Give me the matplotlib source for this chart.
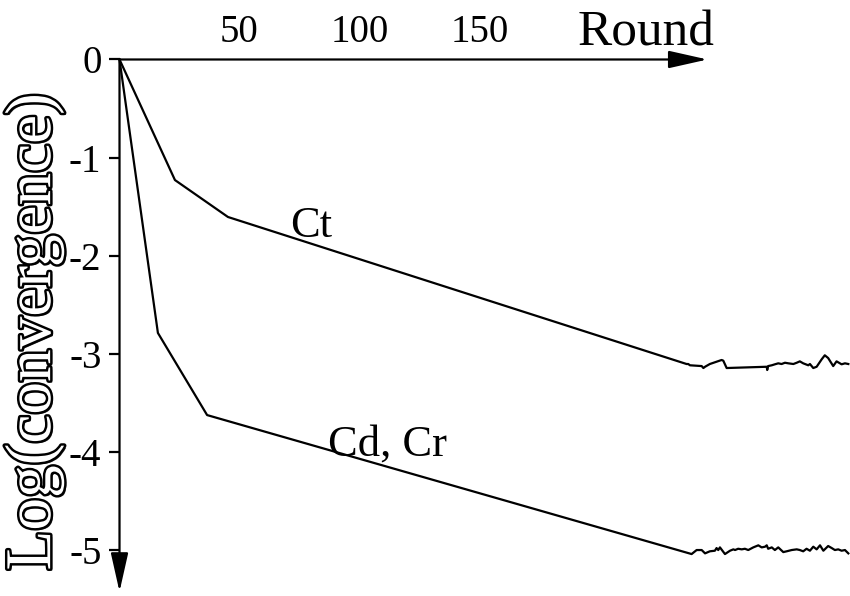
import matplotlib.pyplot as plt
import matplotlib.patheffects as pe

plt.rcParams['font.family'] = ['Liberation Serif', 'DejaVu Serif']

# convergence of Ct
ct_x = [0, 23.1, 45.2, 236.3, 237.0, 237.7, 242.6, 243.3, 244.0, 246.0, 250.9, 251.6,
        253.0, 269.7, 269.9, 270.3, 271.8, 273.1, 274.5, 275.9, 277.3, 278.7, 280.8,
        282.2, 283.5, 284.9, 287.0, 287.7, 289.1, 290.5, 292.6, 293.9, 295.3, 297.4,
        298.8, 300.9, 302.3, 303.7]
ct_y = [0, -1.23, -1.607, -3.107, -3.107, -3.120, -3.128, -3.148, -3.135, -3.107, -3.066,
        -3.073, -3.148, -3.135, -3.168, -3.128, -3.120, -3.110, -3.100, -3.107, -3.094,
        -3.100, -3.107, -3.094, -3.080, -3.100, -3.120, -3.107, -3.148, -3.135, -3.059,
        -3.018, -3.046, -3.128, -3.080, -3.110, -3.100, -3.107]

# convergence of Cd and Cr
cd_x = [0, 16.0, 36.5, 238.4, 240.5, 242.6, 244.0, 246.0, 248.1, 248.8, 249.5, 250.2,
        252.3, 254.4, 255.8, 256.5, 257.8, 259.3, 260.6, 262.0, 264.1, 266.2, 267.6,
        269.0, 269.7, 270.3, 271.8, 273.1, 274.5, 276.6, 278.0, 280.1, 282.2, 283.5,
        284.9, 286.3, 287.7, 289.1, 290.5, 291.9, 293.3, 295.3, 296.8, 298.1, 299.5,
        300.9, 302.3, 303.7]
cd_y = [0, -2.79, -3.628, -5.046, -5.005, -5.005, -5.039, -5.018, -5.012, -4.985, -5.005,
        -4.978, -5.046, -5.012, -4.998, -5.005, -4.992, -4.998, -4.992, -5.005, -4.978,
        -4.957, -4.978, -4.971, -4.957, -4.992, -4.978, -5.005, -4.978, -5.026, -5.018,
        -5.005, -4.998, -5.005, -5.018, -4.992, -5.012, -4.971, -4.998, -4.957, -5.012,
        -4.964, -4.985, -5.005, -4.998, -5.012, -5.005, -5.039]

x_ticks = [50, 100, 150]
y_ticks = [0, -1, -2, -3, -4, -5]

fig = plt.figure(figsize=(8.5, 5.96), dpi=100)
ax = fig.add_axes([0, 0, 1, 1])
ax.set_xlim(-49.8, 304.4)
ax.set_ylim(-5.474, 0.607)

ax.plot(ct_x, ct_y, color='black', lw=1.6)
ax.plot(cd_x, cd_y, color='black', lw=1.6)

# axes through the origin, drawn as arrows
arrow = dict(arrowstyle='-|>,head_length=0.8,head_width=0.18', lw=1.6, color='black',
             mutation_scale=30, shrinkA=0, shrinkB=0)
ax.annotate('', xy=(245, 0), xytext=(0, 0), arrowprops=arrow)
ax.annotate('', xy=(0, -5.43), xytext=(0, 0), arrowprops=arrow)

for side in ['right', 'bottom']:
    ax.spines[side].set_visible(False)
ax.spines['left'].set_position(('data', 0))
ax.spines['top'].set_position(('data', 0))
ax.spines['left'].set_color('none')
ax.spines['top'].set_color('none')

ax.xaxis.set_ticks_position('top')
ax.set_xticks(x_ticks)
ax.set_xticklabels([str(v) for v in x_ticks])
ax.tick_params(axis='x', length=0, pad=6, labelsize=28)

ax.set_yticks(y_ticks)
ax.set_yticklabels([str(v) for v in y_ticks])
ax.tick_params(axis='y', direction='out', length=8, width=1.6, pad=5, labelsize=28)

ax.text(219.5, 0.27, 'Round', fontsize=37, ha='center', va='center')

ax.text(71.0, -1.811, 'Ct', fontsize=32, ha='left', va='baseline')
ax.text(86.9, -4.046, 'Cd, Cr', fontsize=32, ha='left', va='baseline')

# hollow, outlined axis title
ax.text(-35.5, -2.78, 'Log(convergence)', fontsize=47, rotation=90,
        ha='center', va='center', color='white',
        path_effects=[pe.SimplePatchShadow(offset=(1.5, -1.5), shadow_rgbFace='black', alpha=0.8),
                      pe.withStroke(linewidth=3.5, foreground='black')])

fig.savefig('out.png', dpi=100)
